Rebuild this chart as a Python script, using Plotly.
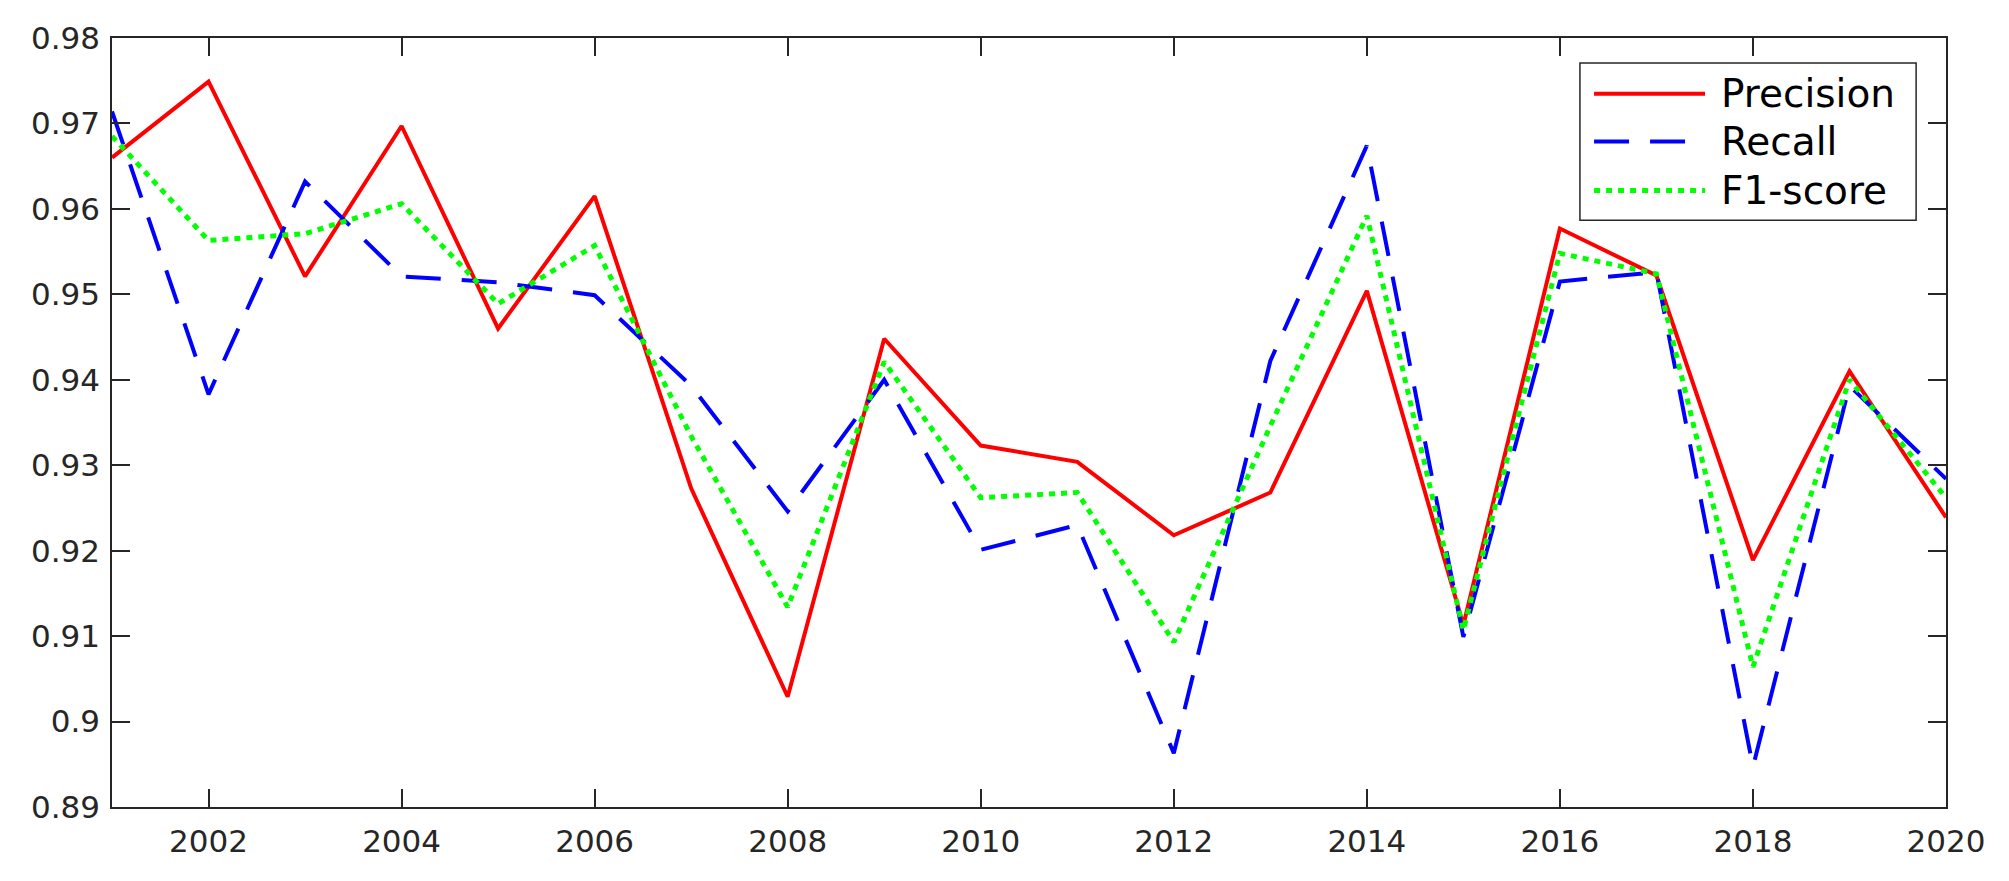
import plotly.graph_objects as go

years = list(range(2001, 2021))
precision = [0.9660, 0.9749, 0.9521, 0.9697, 0.9460, 0.9615, 0.9273, 0.9029, 0.9448, 0.9323,
             0.9304, 0.9218, 0.9268, 0.9504, 0.9113, 0.9577, 0.9522, 0.9189, 0.9410, 0.9239]
recall = [0.9714, 0.9383, 0.9632, 0.9521, 0.9514, 0.9499, 0.9393, 0.9246, 0.9400, 0.9201,
          0.9230, 0.8963, 0.9422, 0.9674, 0.9099, 0.9515, 0.9526, 0.8947, 0.9393, 0.9284]
f1 = [0.9685, 0.9563, 0.9571, 0.9606, 0.9489, 0.9557, 0.9334, 0.9134, 0.9421, 0.9262,
      0.9268, 0.9093, 0.9346, 0.9592, 0.9107, 0.9548, 0.9524, 0.9064, 0.9400, 0.9262]
series_names = ["Precision", "Recall", "F1-score"]
series_data = [precision, recall, f1]
series_styles = [
    dict(color="#ff0000", width=4, dash="solid"),
    dict(color="#0000ff", width=4, dash="35px,21px"),
    dict(color="#00ff00", width=5, dash="6px,6px"),
]

FONT = "DejaVu Sans, Liberation Sans, Arial, sans-serif"

fig = go.Figure()
for name, data, style in zip(series_names, series_data, series_styles):
    fig.add_trace(go.Scatter(x=years, y=data, mode="lines", name=name,
                             line=style, showlegend=False))

axis_common = dict(showline=True, linecolor="#262626", linewidth=1.5, mirror="ticks",
                   ticks="inside", ticklen=18, tickwidth=1.5, tickcolor="#262626",
                   showgrid=False, zeroline=False,
                   tickfont=dict(family=FONT, size=31, color="#262626"))

fig.update_xaxes(range=[2001, 2020], tick0=2002, dtick=2, ticklabelstandoff=6, **axis_common)
fig.update_yaxes(range=[0.89, 0.98], dtick=0.01, tickformat="~g", ticklabelstandoff=4, **axis_common)

# legend box drawn in paper coordinates
lx0, lx1, ly0, ly1 = 0.8004, 0.9837, 0.7630, 0.9676
fig.add_shape(type="rect", xref="paper", yref="paper", x0=lx0, x1=lx1, y0=ly0, y1=ly1,
              line=dict(color="#262626", width=1.5), fillcolor="white", layer="above")
rows = [0.9275, 0.8653, 0.8018]
for name, style, ry in zip(series_names, series_styles, rows):
    fig.add_shape(type="line", xref="paper", yref="paper", x0=0.8081, x1=0.8686, y0=ry, y1=ry,
                  line=style, layer="above")
    fig.add_annotation(x=0.8762, y=ry, xref="paper", yref="paper", text=name,
                       showarrow=False, xanchor="left", yanchor="middle",
                       font=dict(family=FONT, size=39, color="black"))

fig.update_layout(
    width=2009, height=881,
    margin=dict(l=104, r=71, t=27, b=82),
    paper_bgcolor="white", plot_bgcolor="white",
    showlegend=False,
)

fig.write_html("out.html")
